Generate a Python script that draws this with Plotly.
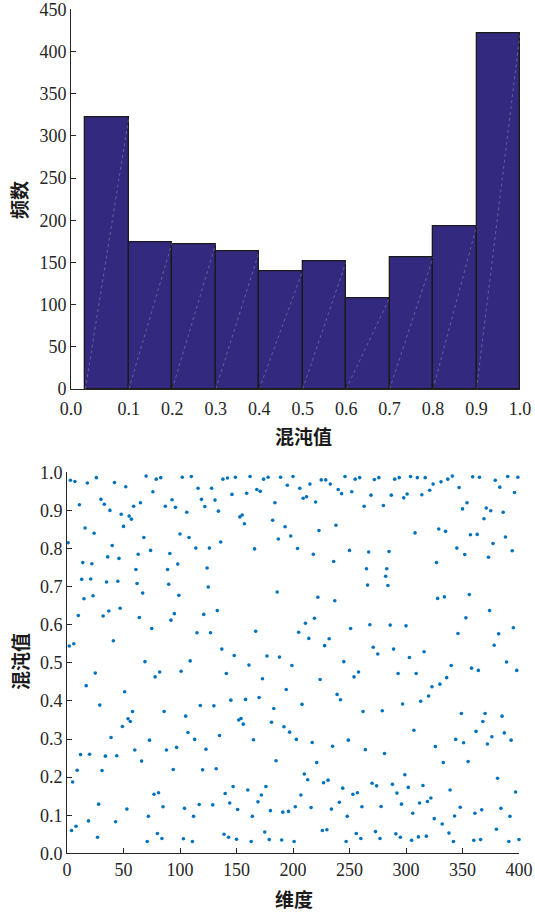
import plotly.graph_objects as go

# ---------------- data ----------------
hist_counts = [322, 174, 172, 163, 140, 151, 108, 156, 193, 421]
bin_left = [0.0, 0.1, 0.2, 0.3, 0.4, 0.5, 0.6, 0.7, 0.8, 0.9]
bin_width = 0.1
hist_axis_min = -0.033
hist_tick_vals = [hist_axis_min, 0.1, 0.2, 0.3, 0.4, 0.5, 0.6, 0.7, 0.8, 0.9, 1.0]
hist_tick_text = ["0.0", "0.1", "0.2", "0.3", "0.4", "0.5", "0.6", "0.7", "0.8", "0.9", "1.0"]

chaos_values = [
    0.815, 0.544, 0.979, 0.060, 0.187, 0.550, 0.976, 0.071, 0.218, 0.624,
    0.915, 0.259, 0.719, 0.763, 0.668, 0.854, 0.440, 0.972, 0.085, 0.260,
    0.720, 0.760, 0.676, 0.840, 0.473, 0.986, 0.042, 0.129, 0.389, 0.929,
    0.217, 0.623, 0.916, 0.255, 0.712, 0.778, 0.636, 0.900, 0.304, 0.808,
    0.558, 0.973, 0.083, 0.256, 0.714, 0.774, 0.643, 0.890, 0.333, 0.858,
    0.424, 0.962, 0.116, 0.353, 0.885, 0.346, 0.877, 0.372, 0.911, 0.271,
    0.745, 0.708, 0.785, 0.619, 0.920, 0.242, 0.683, 0.829, 0.503, 0.990,
    0.031, 0.097, 0.297, 0.795, 0.590, 0.949, 0.155, 0.463, 0.982, 0.052,
    0.159, 0.476, 0.986, 0.039, 0.122, 0.372, 0.911, 0.271, 0.745, 0.706,
    0.787, 0.612, 0.928, 0.220, 0.629, 0.908, 0.278, 0.759, 0.677, 0.838,
    0.478, 0.987, 0.038, 0.118, 0.360, 0.895, 0.317, 0.829, 0.505, 0.989,
    0.031, 0.097, 0.299, 0.801, 0.579, 0.958, 0.128, 0.388, 0.929, 0.219,
    0.627, 0.910, 0.273, 0.749, 0.699, 0.801, 0.579, 0.958, 0.127, 0.387,
    0.927, 0.222, 0.637, 0.898, 0.309, 0.817, 0.536, 0.982, 0.050, 0.157,
    0.472, 0.985, 0.042, 0.132, 0.402, 0.942, 0.175, 0.519, 0.987, 0.037,
    0.115, 0.350, 0.883, 0.354, 0.888, 0.339, 0.865, 0.404, 0.945, 0.166,
    0.494, 0.989, 0.031, 0.097, 0.298, 0.799, 0.583, 0.955, 0.135, 0.409,
    0.950, 0.153, 0.458, 0.982, 0.056, 0.175, 0.518, 0.987, 0.036, 0.112,
    0.344, 0.874, 0.380, 0.920, 0.243, 0.686, 0.825, 0.515, 0.987, 0.035,
    0.108, 0.332, 0.857, 0.430, 0.966, 0.110, 0.318, 0.833, 0.493, 0.989,
    0.031, 0.122, 0.299, 0.800, 0.580, 0.958, 0.153, 0.391, 0.932, 0.208,
    0.604, 0.936, 0.193, 0.564, 0.969, 0.120, 0.291, 0.785, 0.617, 0.922,
    0.238, 0.672, 0.847, 0.456, 0.980, 0.060, 0.185, 0.545, 0.980, 0.062,
    0.192, 0.563, 0.969, 0.116, 0.281, 0.766, 0.663, 0.861, 0.417, 0.955,
    0.134, 0.403, 0.944, 0.171, 0.503, 0.989, 0.031, 0.097, 0.297, 0.795,
    0.590, 0.949, 0.155, 0.463, 0.982, 0.052, 0.159, 0.476, 0.986, 0.039,
    0.122, 0.372, 0.911, 0.272, 0.747, 0.704, 0.791, 0.600, 0.940, 0.184,
    0.541, 0.981, 0.057, 0.177, 0.523, 0.986, 0.039, 0.123, 0.374, 0.913,
    0.262, 0.727, 0.747, 0.703, 0.792, 0.599, 0.940, 0.181, 0.536, 0.982,
    0.051, 0.158, 0.472, 0.986, 0.042, 0.129, 0.392, 0.933, 0.206, 0.597,
    0.943, 0.173, 0.514, 0.989, 0.034, 0.105, 0.323, 0.841, 0.472, 0.986,
    0.043, 0.132, 0.399, 0.941, 0.178, 0.529, 0.986, 0.045, 0.136, 0.413,
    0.953, 0.145, 0.437, 0.969, 0.091, 0.280, 0.763, 0.669, 0.851, 0.444,
    0.975, 0.077, 0.238, 0.673, 0.845, 0.461, 0.982, 0.053, 0.166, 0.493,
    0.990, 0.031, 0.098, 0.299, 0.801, 0.577, 0.960, 0.121, 0.367, 0.904,
    0.290, 0.784, 0.618, 0.920, 0.241, 0.679, 0.836, 0.486, 0.988, 0.034,
    0.105, 0.320, 0.837, 0.480, 0.987, 0.036, 0.114, 0.346, 0.878, 0.367,
    0.906, 0.287, 0.777, 0.637, 0.899, 0.306, 0.813, 0.546, 0.979, 0.063,
    0.197, 0.576, 0.961, 0.118, 0.360, 0.895, 0.316, 0.830, 0.502, 0.989,
    0.031, 0.097, 0.297, 0.794, 0.592, 0.947, 0.161, 0.480, 0.987, 0.036,
]
dims = list(range(1, len(chaos_values) + 1))

# ---------------- figure ----------------
W, H = 535, 915
BAR_COLOR = "#332a80"
AX_COLOR = "#262626"
TICK_FONT = dict(family="Liberation Serif, Times New Roman, serif", size=18, color=AX_COLOR)
TITLE_FONT = dict(family="Noto Sans CJK SC, sans-serif", size=19, color="#1a1a1a")

fig = go.Figure()

bin_centers = [b + bin_width / 2 for b in bin_left]
fig.add_trace(go.Bar(
    x=bin_centers, y=hist_counts, width=[bin_width] * len(hist_counts),
    marker=dict(color=BAR_COLOR, line=dict(color="#1a1a1a", width=1.3)),
    xaxis="x", yaxis="y", showlegend=False, hoverinfo="skip",
))

# faint diagonal rendering streaks inside the bars
dx, dy = [], []
for b, c in zip(bin_left, hist_counts):
    dx += [b, b + bin_width, None]
    dy += [0, c, None]
fig.add_trace(go.Scatter(
    x=dx, y=dy, mode="lines", line=dict(color="rgba(255,255,255,0.35)", width=0.7, dash="dot"),
    xaxis="x", yaxis="y", showlegend=False, hoverinfo="skip",
))

fig.add_trace(go.Scatter(
    x=dims, y=chaos_values, mode="markers",
    marker=dict(color="#0072BD", size=3.6),
    xaxis="x2", yaxis="y2", showlegend=False, cliponaxis=False,
))

axis_common = dict(
    showline=True, linecolor=AX_COLOR, linewidth=1, mirror=False,
    ticks="inside", ticklen=5, tickwidth=1, tickcolor=AX_COLOR,
    showgrid=False, zeroline=False, tickfont=TICK_FONT, automargin=False,
    ticklabeloverflow="allow",
)

fig.update_layout(
    width=W, height=H,
    margin=dict(l=0, r=0, t=0, b=0),
    paper_bgcolor="white", plot_bgcolor="white",
    bargap=0,
    xaxis=dict(domain=[71 / W, 520 / W], range=[hist_axis_min, 1.0],
               tickmode="array", tickvals=hist_tick_vals, ticktext=hist_tick_text,
               ticklabelstandoff=3, anchor="y", **axis_common),
    yaxis=dict(domain=[1 - 389 / H, 1 - 9.3 / H], range=[0, 450], dtick=50,
               anchor="x", **axis_common),
    xaxis2=dict(domain=[67 / W, 519 / W], range=[0, 400], dtick=50,
                anchor="y2", **axis_common),
    yaxis2=dict(domain=[1 - 853.3 / H, 1 - 472.3 / H], range=[0, 1.0], dtick=0.1,
                tickformat=".1f", anchor="x2", **axis_common),
)

annots = [
    dict(text="<b>频数</b>", x=18 / W, y=1 - 200 / H, textangle=-90),
    dict(text="<b>混沌值</b>", x=303 / W, y=1 - 435 / H, textangle=0),
    dict(text="<b>混沌值</b>", x=19 / W, y=1 - 662 / H, textangle=-90),
    dict(text="<b>维度</b>", x=293.5 / W, y=1 - 898 / H, textangle=0),
]
for a in annots:
    fig.add_annotation(xref="paper", yref="paper", showarrow=False,
                       xanchor="center", yanchor="middle", font=TITLE_FONT, **a)

fig.write_html(
    "out.html",
    config={"displayModeBar": False},
    post_script="document.body.style.margin='0px';document.body.style.overflow='hidden';",
)
